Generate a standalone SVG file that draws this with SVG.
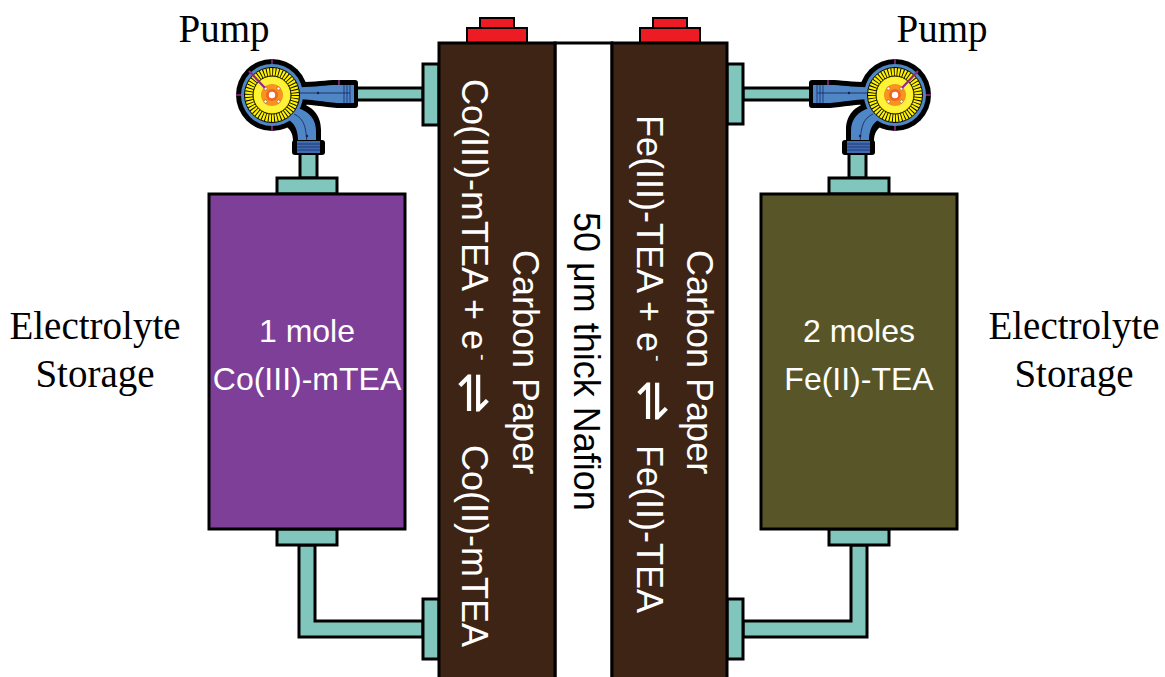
<svg xmlns="http://www.w3.org/2000/svg" xmlns:xlink="http://www.w3.org/1999/xlink" width="1165" height="677" viewBox="0 0 1165 677">
  <style>
    .pipe { fill: #80C6BC; stroke: #000; stroke-width: 3; }
    .cell { fill: #3D2414; stroke: #000; stroke-width: 3; }
    .term { fill: #ED1C24; stroke: #000; stroke-width: 2; }
    .tank { stroke: #000; stroke-width: 3; }
    .serif { font-family: "Liberation Serif", "Times New Roman", serif; font-size: 39px; fill: #000; }
    .sans { font-family: "Liberation Sans", Arial, sans-serif; fill: #fff; }
    .cellText { font-family: "Liberation Sans", Arial, sans-serif; font-size: 36px; fill: #fff; }
    .sup { font-family: "Liberation Sans", Arial, sans-serif; font-size: 20px; fill: #fff; }
    .eq { font-family: "DejaVu Sans", sans-serif; font-size: 50px; fill: #fff; }
    .tick { stroke: #92278F; stroke-width: 1.6; }
  </style>
  <defs>
    <!-- centrifugal pump, impeller centred at (272,95), outlet to the right, elbow downwards -->
    <g id="pumpShape">
      <!-- black housing outline -->
      <path d="M290,82 C312,83 324,80 337,80 L355,80 Q358,80 358,83 L358,105 Q358,108 355,108 L337,108 C324,107 312,104 290,104 Z" fill="#000"/>
      <path d="M282,124 C290,128 293,133 293,141 L321,141 L321,130 C321,115 312,105 298,103 Z" fill="#000"/>
      <circle cx="272" cy="95" r="36" fill="#000"/>
      <!-- blue volute and channels -->
      <circle cx="272" cy="95" r="31" fill="#4F86C6"/>
      <path d="M292,87 C312,88 324,85 337,85 L354,85 L354,103 L337,103 C324,102 312,99 292,99 Z" fill="#4F86C6"/>
      <path d="M286,118 C295,123 298,130 298,141 L316,141 L316,131 C316,119 309,111 297,108 Z" fill="#4F86C6"/>
      <!-- flow lines -->
      <path d="M290,93 L350,93" stroke="#1B1F4A" stroke-width="0.8" fill="none"/>
      <path d="M294,114 C304,119 307,126 307,152" stroke="#1B1F4A" stroke-width="0.8" fill="none"/>
      <circle cx="318" cy="93" r="1.2" fill="#1B1F4A"/>
      <circle cx="307" cy="136" r="1.2" fill="#1B1F4A"/>
      <!-- outlet flange hatching -->
      <g stroke="#1B2A6B" stroke-width="0.8">
        <line x1="344" y1="85" x2="344" y2="103"/>
        <line x1="347" y1="85" x2="347" y2="103"/>
        <line x1="350" y1="85" x2="350" y2="103"/>
      </g>
      <!-- elbow flange -->
      <rect x="292" y="140" width="33" height="15" rx="3" fill="#000"/>
      <rect x="297" y="141" width="23" height="12" fill="#3F6DB0"/>
      <g stroke="#1B2A6B" stroke-width="0.8">
        <line x1="297" y1="144" x2="320" y2="144"/>
        <line x1="297" y1="147" x2="320" y2="147"/>
        <line x1="297" y1="150" x2="320" y2="150"/>
      </g>
      <!-- impeller blades -->
      <circle cx="272" cy="95" r="27.5" fill="#FFF200" stroke="#000" stroke-width="1"/>
      <circle cx="272" cy="95" r="23" fill="none" stroke="#000" stroke-width="8" stroke-dasharray="0.9 2.1"/>
      <circle cx="272" cy="95" r="19" fill="#FFF200" stroke="#000" stroke-width="1"/>
      <circle cx="272" cy="95" r="17.5" fill="#FFF23A"/>
      <!-- hub -->
      <circle cx="272" cy="95" r="11" fill="#F7941D"/>
      <circle cx="272" cy="95" r="6" fill="#F26522"/>
      <circle cx="272" cy="95" r="3.2" fill="#fff"/>
      <g fill="#fff" stroke="#8A4A10" stroke-width="0.5">
        <circle cx="265.5" cy="88.5" r="1.6"/>
        <circle cx="278.5" cy="88.5" r="1.6"/>
        <circle cx="265.5" cy="101.5" r="1.6"/>
        <circle cx="278.5" cy="101.5" r="1.6"/>
      </g>
      <!-- purple index marks -->
      <line class="tick" x1="272" y1="59" x2="272" y2="64"/>
      <line class="tick" x1="272" y1="126" x2="272" y2="131"/>
      <line class="tick" x1="236" y1="95" x2="241" y2="95"/>
      <line class="tick" x1="339" y1="80" x2="339" y2="85"/>
      <line x1="249" y1="71" x2="265" y2="88" stroke="#92278F" stroke-width="2.2"/>
    </g>
  </defs>

  <rect x="0" y="0" width="1165" height="677" fill="#fff"/>

  <!-- pipework between tanks, pumps and cell -->
  <g id="connectors">
    <rect class="pipe" x="355" y="88" width="68" height="12"/>
    <rect class="pipe" x="300" y="153" width="17" height="25"/>
    <path class="pipe" d="M299,545 V637 H423 V621 H315 V545 Z"/>
    <rect class="pipe" x="743" y="88" width="68" height="12"/>
    <rect class="pipe" x="849" y="153" width="17" height="25"/>
    <path class="pipe" d="M867,545 V637 H743 V621 H851 V545 Z"/>
  </g>

  <!-- pumps -->
  <g id="pump-left">
    <use xlink:href="#pumpShape"/>
    <text class="serif" x="224" y="42" text-anchor="middle">Pump</text>
  </g>
  <g id="pump-right">
    <use xlink:href="#pumpShape" transform="translate(1167,0) scale(-1,1)"/>
    <text class="serif" x="942" y="42" text-anchor="middle">Pump</text>
  </g>

  <!-- electrolyte tanks -->
  <g id="tank-left">
    <rect class="pipe" x="277" y="178" width="60" height="16"/>
    <rect class="pipe" x="277" y="529" width="60" height="16"/>
    <rect class="tank" x="209" y="194" width="196" height="335" fill="#7E3F98"/>
    <text class="sans" x="307" y="342" font-size="32" text-anchor="middle">1 mole</text>
    <text class="sans" x="307" y="390" font-size="32" text-anchor="middle">Co(III)-mTEA</text>
  </g>
  <g id="tank-right">
    <rect class="pipe" x="829" y="178" width="60" height="16"/>
    <rect class="pipe" x="829" y="529" width="60" height="16"/>
    <rect class="tank" x="761" y="194" width="196" height="335" fill="#585628"/>
    <text class="sans" x="859" y="342" font-size="32" text-anchor="middle">2 moles</text>
    <text class="sans" x="859" y="390" font-size="32" text-anchor="middle">Fe(II)-TEA</text>
  </g>

  <g id="label-storage-left">
    <text class="serif" x="95" y="339" text-anchor="middle">Electrolyte</text>
    <text class="serif" x="95" y="387" text-anchor="middle">Storage</text>
  </g>
  <g id="label-storage-right">
    <text class="serif" x="1074" y="339" text-anchor="middle">Electrolyte</text>
    <text class="serif" x="1074" y="387" text-anchor="middle">Storage</text>
  </g>

  <!-- current collector terminals -->
  <g id="terminals">
    <rect class="term" x="480" y="18" width="34" height="11"/>
    <rect class="term" x="467" y="28" width="60" height="15"/>
    <rect class="term" x="653" y="18" width="34" height="11"/>
    <rect class="term" x="640" y="28" width="60" height="15"/>
  </g>

  <!-- cell inlet/outlet ports -->
  <g id="ports">
    <rect class="pipe" x="423" y="64" width="16" height="61"/>
    <rect class="pipe" x="423" y="599" width="16" height="60"/>
    <rect class="pipe" x="727" y="64" width="16" height="60"/>
    <rect class="pipe" x="727" y="599" width="16" height="60"/>
  </g>

  <!-- membrane -->
  <g id="membrane">
    <rect x="555" y="43" width="57" height="660" fill="#fff" stroke="#000" stroke-width="3"/>
    <g transform="rotate(90)">
      <text x="212" y="-574" font-family="Liberation Sans, Arial, sans-serif" font-size="36" fill="#000">50 μm thick Nafion</text>
    </g>
  </g>

  <!-- negative half-cell -->
  <g id="cell-left">
    <rect class="cell" x="439" y="43" width="116" height="660"/>
    <g transform="rotate(90)">
      <text class="cellText" x="79" y="-462">Co(III)-mTEA + e</text>
      <text class="sup" x="354" y="-476">-</text>
      <text class="eq" x="372" y="-458">⇌</text>
      <text class="cellText" x="445" y="-462">Co(II)-mTEA</text>
      <text class="cellText" x="250" y="-513">Carbon Paper</text>
    </g>
  </g>

  <!-- positive half-cell -->
  <g id="cell-right">
    <rect class="cell" x="612" y="43" width="115" height="660"/>
    <g transform="rotate(90)">
      <text class="cellText" x="115" y="-637">Fe(III)-TEA + e</text>
      <text class="sup" x="355" y="-651">-</text>
      <text class="eq" x="380" y="-637">⇌</text>
      <text class="cellText" x="445" y="-637">Fe(II)-TEA</text>
      <text class="cellText" x="250" y="-687">Carbon Paper</text>
    </g>
  </g>
</svg>
